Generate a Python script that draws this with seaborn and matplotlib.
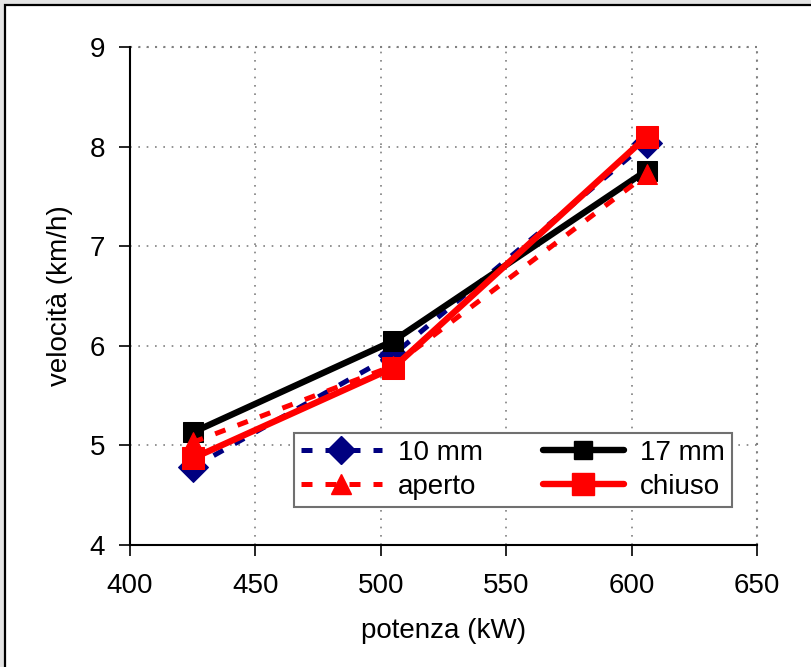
import matplotlib
matplotlib.use("Agg")
import matplotlib.pyplot as plt
from matplotlib.patches import Rectangle
from matplotlib.lines import Line2D
import seaborn as sns
import pandas as pd

# Power (kW) and speed (km/h) for each configuration
potenza = [425, 505, 606]
vel_10mm = [4.78, 5.91, 8.04]
vel_17mm = [5.13, 6.05, 7.76]
vel_aperto = [5.03, 5.80, 7.72]
vel_chiuso = [4.87, 5.78, 8.10]

x_ticks = [400, 450, 500, 550, 600, 650]
y_ticks = [4, 5, 6, 7, 8, 9]

sns.set_style("white")
plt.rcParams["font.family"] = ["Liberation Sans", "DejaVu Sans"]
plt.rcParams.update({"text.color": "black", "axes.labelcolor": "black",
                     "xtick.color": "black", "ytick.color": "black"})

fig = plt.figure(figsize=(8.11, 6.67), dpi=100, facecolor="#e4e4e4")
# white chart area with a black border (open to the right and bottom)
fig.patches.append(Rectangle((5 / 811, -0.1), 1.2, 1 - 5 / 667 + 0.1,
                             transform=fig.transFigure, facecolor="white",
                             edgecolor="black", linewidth=1.6, zorder=-10))

ax = fig.add_axes([130 / 811, 1 - 545 / 667, 627 / 811, 498 / 667])
ax.set_facecolor("white")

series = [
    ("10 mm", vel_10mm, "#000080", (0, (2.2, 2.6)), "D", 15, 3.6),
    ("17 mm", vel_17mm, "black", "-", "s", 14, 4.6),
    ("aperto", vel_aperto, "#ff0000", (0, (2.2, 2.6)), "^", 15, 3.6),
    ("chiuso", vel_chiuso, "#ff0000", "-", "s", 16, 4.6),
]

handles = {}
for label, vals, color, ls, mk, ms, lw in series:
    df = pd.DataFrame({"potenza": potenza, "velocita": vals})
    sns.lineplot(data=df, x="potenza", y="velocita", ax=ax, color=color,
                 linestyle=ls, linewidth=lw, marker=mk, markersize=ms,
                 markeredgecolor=color, markerfacecolor=color, zorder=3,
                 clip_on=False)
    handles[label] = Line2D([], [], color=color, linestyle=ls, linewidth=lw,
                            marker=mk, markersize=ms * 0.95,
                            markeredgecolor=color, markerfacecolor=color)

ax.set_xlim(400, 650)
ax.set_ylim(4, 9)
ax.set_xticks(x_ticks)
ax.set_yticks(y_ticks)
ax.tick_params(axis="both", labelsize=20, direction="out", length=8,
               width=1.2, color="black", labelcolor="black", pad=10,
               left=True, bottom=True)
ax.tick_params(axis="x", pad=12)
ax.grid(True, color="#808080", linestyle=(0, (1, 4)), linewidth=1.2)

for side in ["top", "right"]:
    ax.spines[side].set_visible(False)
for side in ["left", "bottom"]:
    ax.spines[side].set_color("black")
    ax.spines[side].set_linewidth(1.5)
# dotted gray frame on top and right
ax.axhline(9, color="#808080", linestyle=(0, (1, 3)), linewidth=1.5, clip_on=False)
ax.axvline(650, color="#808080", linestyle=(0, (1, 3)), linewidth=1.5, clip_on=False)

ax.set_xlabel("potenza (kW)", fontsize=20, labelpad=14, color="black")
ax.set_ylabel("velocità (km/h)", fontsize=20, labelpad=12, color="black")

order = ["10 mm", "aperto", "17 mm", "chiuso"]
leg = ax.legend([handles[k] for k in order], order, ncol=2, fontsize=20,
                loc="lower left", bbox_to_anchor=((294 - 130) / 627, (545 - 507) / 498,
                                                  (732 - 294) / 627, (507 - 425) / 498),
                mode="expand", frameon=True, fancybox=False, framealpha=1,
                edgecolor="#707070", handlelength=2.9, handletextpad=0.6,
                columnspacing=0.8, borderpad=0.25, labelspacing=0.3,
                borderaxespad=0)
leg.get_frame().set_linewidth(1.5)
leg.set_zorder(5)
for t in leg.get_texts():
    t.set_color("black")

fig.savefig("out.png", dpi=100, facecolor=fig.get_facecolor())
